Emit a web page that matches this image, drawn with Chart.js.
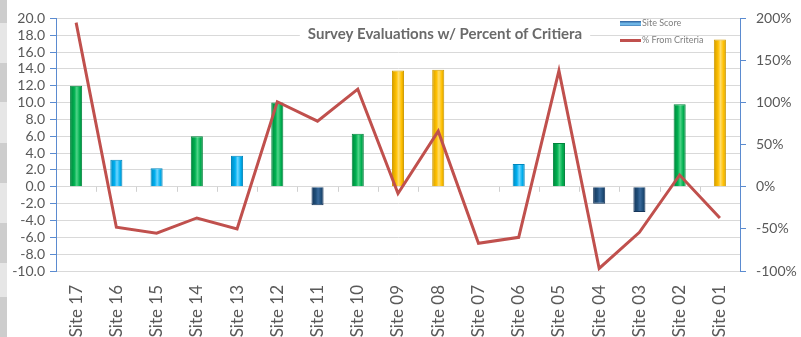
<!DOCTYPE html>
<html>
<head>
<meta charset="utf-8">
<script src="https://cdn.jsdelivr.net/npm/chart.js@4.4.1/dist/chart.umd.min.js"></script>
<style>
  html, body { margin: 0; padding: 0; background: #fff; }
  #wrap { position: relative; width: 801px; height: 337px; }
  /* row-header remnant on the left edge */
  #strip {
    position: absolute; left: 0; top: 0; width: 7px; height: 337px;
    background: linear-gradient(to bottom,
      #cdcdcd 0 23px, #e6e6e6 23px 63px, #cdcdcd 63px 102px, #e6e6e6 102px 143px,
      #cdcdcd 143px 183px, #e6e6e6 183px 223px, #cdcdcd 223px 263px,
      #e6e6e6 263px 297px, #cdcdcd 297px 337px);
  }
  canvas { position: absolute; left: 0; top: 0; }
</style>
</head>
<body>
<div id="wrap">
  <div id="strip"></div>
  <canvas id="surveyChart" width="801" height="337"></canvas>
</div>
<script>
// サイト別スコアと基準からの乖離（%）
const sites = ["Site 17", "Site 16", "Site 15", "Site 14", "Site 13", "Site 12", "Site 11", "Site 10", "Site 09",
               "Site 08", "Site 07", "Site 06", "Site 05", "Site 04", "Site 03", "Site 02", "Site 01"];
const siteScore = [12.0, 3.2, 2.2, 6.0, 3.7, 10.0, -2.2, 6.3, 13.8, 13.9, null, 2.7, 5.2, -2.0, -3.0, 9.8, 17.5];
const pctFromCriteria = [195, -48, -55, -37, -50, 101, 78, 116, -8, 66, -67, -60, 138, -97, -54, 14, -37];

const scoreTicks = { min: -10, max: 20, step: 2 };
const pctTicks = { min: -100, max: 200, step: 50 };

const titleText = "Survey Evaluations w/ Percent of Critiera";
const legendLabels = ["Site Score", "% From Criteria"];

const FONT = "Lato, 'Open Sans', sans-serif";
const GRAY = "#595959";
const AXIS_BLUE = "#5b8bd0";

// スコア帯ごとの色 [暗, 中, 明]
function bandColors(v) {
  if (v < 0) return ["#15355a", "#1f4e79", "#3a6a9c"];
  if (v < 4) return ["#0087bd", "#00b0f0", "#6fd6ff"];
  if (v < 13) return ["#00853c", "#00b050", "#4fd488"];
  return ["#d19c00", "#ffc000", "#ffdc6a"];
}

// 円柱っぽく見せる横方向グラデーション
function cylinder(context) {
  const chart = context.chart;
  const v = siteScore[context.dataIndex];
  const c = bandColors(v == null ? 1 : v);
  const xs = chart.scales.x;
  if (!xs || !chart.chartArea) return c[1];
  const cx = xs.getPixelForValue(context.dataIndex);
  const g = chart.ctx.createLinearGradient(cx - 6, 0, cx + 6, 0);
  g.addColorStop(0, c[0]);
  g.addColorStop(0.35, c[1]);
  g.addColorStop(0.55, c[2]);
  g.addColorStop(0.8, c[1]);
  g.addColorStop(1, c[0]);
  return g;
}

// タイトル・凡例・ゼロ線の目盛り
const decor = {
  id: "decor",
  beforeDatasetsDraw(chart) {
    const ctx = chart.ctx;
    const xs = chart.scales.x;
    const y0 = chart.scales.y.getPixelForValue(0);

    ctx.save();
    ctx.strokeStyle = "#d0d0d0";
    ctx.lineWidth = 1;
    for (let i = 0; i < sites.length - 1; i++) {
      const x = Math.round((xs.getPixelForValue(i) + xs.getPixelForValue(i + 1)) / 2) + 0.5;
      ctx.beginPath();
      ctx.moveTo(x, y0);
      ctx.lineTo(x, y0 + 5);
      ctx.stroke();
    }

    // タイトル
    ctx.font = "bold 15px " + FONT;
    const tw = ctx.measureText(titleText).width;
    const tx = 445, ty = 34;
    ctx.fillStyle = "#fff";
    ctx.fillRect(tx - tw / 2 - 8, ty - 11, tw + 16, 22);
    ctx.fillStyle = "#6a6a6a";
    ctx.textAlign = "center";
    ctx.textBaseline = "middle";
    ctx.fillText(titleText, tx, ty);

    // 凡例
    const lx = 620;
    const g = ctx.createLinearGradient(0, 21, 0, 27);
    g.addColorStop(0, "#2a5c9a");
    g.addColorStop(0.5, "#7cc8f5");
    g.addColorStop(1, "#2a5c9a");
    ctx.fillStyle = g;
    ctx.fillRect(lx, 21, 21, 5);
    ctx.strokeStyle = "#c0504d";
    ctx.lineWidth = 3;
    ctx.beginPath();
    ctx.moveTo(lx, 40.5);
    ctx.lineTo(lx + 21, 40.5);
    ctx.stroke();
    ctx.font = "9px " + FONT;
    ctx.fillStyle = "#7f7f7f";
    ctx.textAlign = "left";
    ctx.fillText(legendLabels[0], lx + 22, 23.5);
    ctx.fillText(legendLabels[1], lx + 22, 40.5);
    ctx.restore();
  }
};

const chart = new Chart(document.getElementById("surveyChart"), {
  data: {
    labels: sites,
    datasets: [
      {
        type: "line",
        label: legendLabels[1],
        data: pctFromCriteria,
        yAxisID: "y1",
        borderColor: "#c0504d",
        borderWidth: 3,
        pointRadius: 0,
        tension: 0,
        order: 0
      },
      {
        type: "bar",
        label: legendLabels[0],
        data: siteScore,
        yAxisID: "y",
        backgroundColor: cylinder,
        borderColor: ctx => bandColors(siteScore[ctx.dataIndex] ?? 1)[0],
        borderWidth: 1,
        barPercentage: 0.3,
        categoryPercentage: 1,
        order: 1
      }
    ]
  },
  plugins: [decor],
  options: {
    responsive: false,
    animation: false,
    layout: { padding: { top: 15 } },
    plugins: {
      legend: { display: false },
      tooltip: { enabled: false }
    },
    scales: {
      x: {
        grid: { display: false },
        border: { color: "#d9d9d9" },
        ticks: {
          color: GRAY,
          font: { family: FONT, size: 17 },
          minRotation: 90,
          maxRotation: 90,
          autoSkip: false,
          padding: 6
        },
        afterFit: s => { s.height = 66; }
      },
      y: {
        position: "left",
        min: scoreTicks.min,
        max: scoreTicks.max,
        ticks: {
          stepSize: scoreTicks.step,
          autoSkip: false,
          color: GRAY,
          font: { family: FONT, size: 14 },
          padding: 5,
          callback: v => v.toFixed(1)
        },
        grid: { color: "#d9d9d9", tickColor: AXIS_BLUE, tickLength: 6 },
        border: { color: AXIS_BLUE },
        afterFit: s => { s.width = 56; }
      },
      y1: {
        position: "right",
        min: pctTicks.min,
        max: pctTicks.max,
        ticks: {
          stepSize: pctTicks.step,
          autoSkip: false,
          color: GRAY,
          font: { family: FONT, size: 14 },
          padding: 10,
          callback: v => v + "%"
        },
        grid: { drawOnChartArea: false, tickColor: AXIS_BLUE, tickLength: 6 },
        border: { color: AXIS_BLUE },
        afterFit: s => { s.width = 61; }
      }
    }
  }
});
</script>
</body>
</html>
